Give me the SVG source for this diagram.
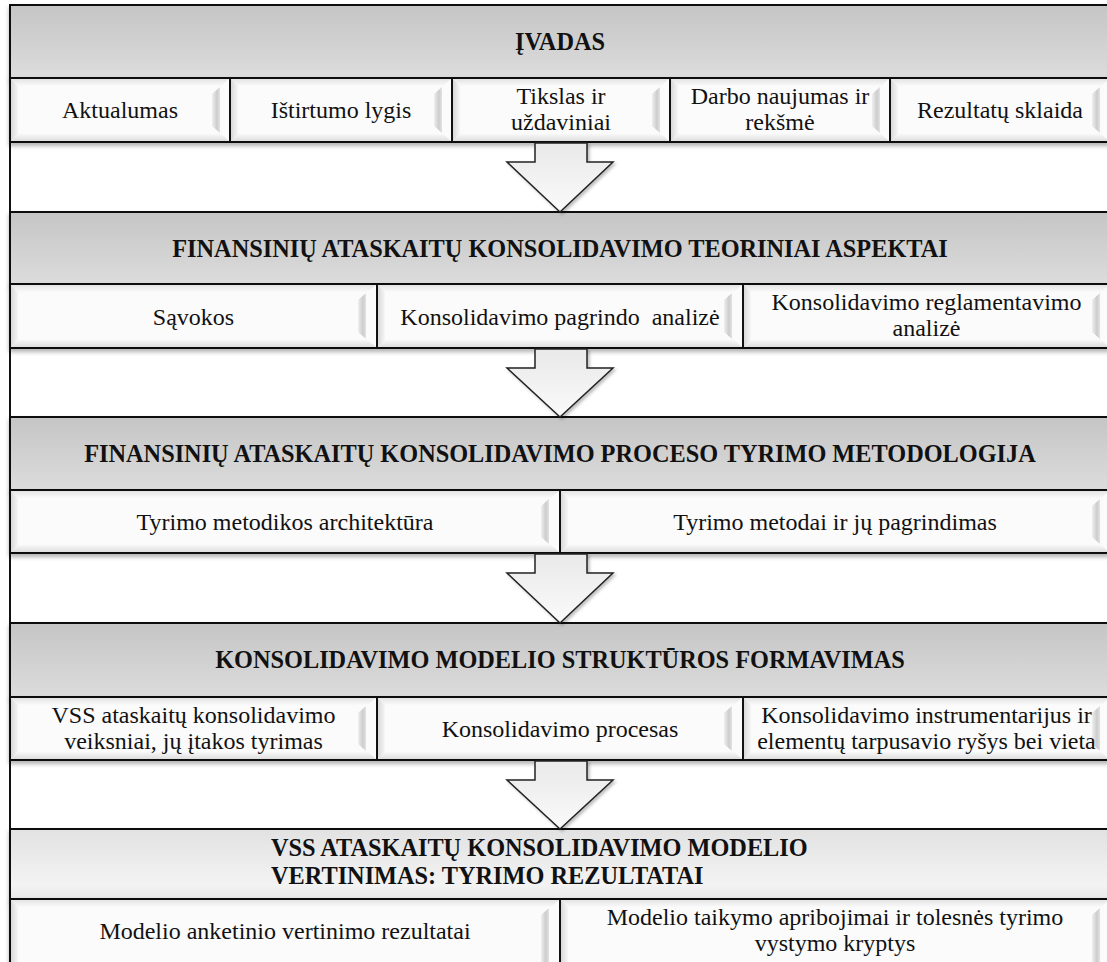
<svg xmlns="http://www.w3.org/2000/svg" width="1107" height="962" viewBox="0 0 1107 962">
  <defs>
    <linearGradient id="gHead" x1="0" y1="0" x2="0" y2="1">
      <stop offset="0" stop-color="#c5c5c5"/>
      <stop offset="1" stop-color="#dcdcdc"/>
    </linearGradient>
    <linearGradient id="gHeadLight" x1="0" y1="0" x2="0" y2="1">
      <stop offset="0" stop-color="#e2e2e2"/>
      <stop offset="0.8" stop-color="#f3f3f3"/>
      <stop offset="1" stop-color="#e9e9e9"/>
    </linearGradient>
    <linearGradient id="gArrow" x1="0" y1="0" x2="0" y2="1">
      <stop offset="0" stop-color="#e9e9e9"/>
      <stop offset="1" stop-color="#fafafa"/>
    </linearGradient>
    <linearGradient id="bevL" x1="0" y1="0" x2="1" y2="0">
      <stop offset="0" stop-color="#d9d9d9"/>
      <stop offset="1" stop-color="#f6f6f6"/>
    </linearGradient>
    <linearGradient id="bevT" x1="0" y1="0" x2="0" y2="1">
      <stop offset="0" stop-color="#e4e4e4"/>
      <stop offset="1" stop-color="#fafafa"/>
    </linearGradient>
    <linearGradient id="bevB" x1="0" y1="0" x2="0" y2="1">
      <stop offset="0" stop-color="#f8f8f8"/>
      <stop offset="1" stop-color="#dedede"/>
    </linearGradient>
    <linearGradient id="bevR" x1="0" y1="0" x2="1" y2="0">
      <stop offset="0" stop-color="#efefef"/>
      <stop offset="0.6" stop-color="#cdcdcd"/>
      <stop offset="1" stop-color="#e2e2e2"/>
    </linearGradient>
    <filter id="shadow" x="-5%" y="-20%" width="110%" height="150%">
      <feDropShadow dx="0" dy="3" stdDeviation="2" flood-color="#000" flood-opacity="0.3"/>
    </filter>
    <filter id="arrowShadow" x="-20%" y="-20%" width="150%" height="150%">
      <feDropShadow dx="2" dy="2" stdDeviation="1.5" flood-color="#000" flood-opacity="0.25"/>
    </filter>
  </defs>
  <style>
    .head { fill: url(#gHead); stroke: #111; stroke-width: 2; filter: url(#shadow); }
    .head.light { fill: url(#gHeadLight); }
    .row { fill: #fbfbfb; stroke: #111; stroke-width: 2; filter: url(#shadow); }
    .div { stroke: #111; stroke-width: 2; }
    .bl { fill: url(#bevL); }
    .bt { fill: url(#bevT); }
    .bb { fill: url(#bevB); }
    .br { fill: url(#bevR); }
    text { font-family: 'Liberation Serif', 'DejaVu Serif', serif; fill: #111; }
    .txt { font-size: 24px; text-anchor: middle; }
    .ttl { font-size: 24.3px; font-weight: bold; text-anchor: middle; }
    .left { text-anchor: start; }
    .arrow { fill: url(#gArrow); stroke: #222; stroke-width: 1.5; stroke-linejoin: miter; filter: url(#arrowShadow); }
    .frame { stroke: #111; stroke-width: 2; fill: none; }
  </style>

  <rect width="1107" height="962" fill="#fff"/>
  <line class="frame" x1="10" y1="5" x2="10" y2="962"/>

  <!-- Section 1 -->
  <g id="ivadas">
    <rect class="head" x="10" y="5" width="1100" height="73"/>
    <text class="ttl" x="560" y="50">ĮVADAS</text>
    <rect class="row" x="10" y="78" width="1100" height="64"/>
    <path class="bt" d="M11,79 L229,79 L221,86 L18,86 Z"/>
    <path class="bl" d="M11,79 L18,86 L18,134 L11,141 Z"/>
    <path class="bb" d="M11,141 L18,134 L221,134 L229,141 Z"/>
    <path class="br" d="M212,94 L220,87 L220,133 L212,126 Z"/>
    <path class="bt" d="M231,79 L451,79 L443,86 L238,86 Z"/>
    <path class="bl" d="M231,79 L238,86 L238,134 L231,141 Z"/>
    <path class="bb" d="M231,141 L238,134 L443,134 L451,141 Z"/>
    <path class="br" d="M434,94 L442,87 L442,133 L434,126 Z"/>
    <path class="bt" d="M453,79 L669,79 L661,86 L460,86 Z"/>
    <path class="bl" d="M453,79 L460,86 L460,134 L453,141 Z"/>
    <path class="bb" d="M453,141 L460,134 L661,134 L669,141 Z"/>
    <path class="br" d="M652,94 L660,87 L660,133 L652,126 Z"/>
    <path class="bt" d="M671,79 L889,79 L881,86 L678,86 Z"/>
    <path class="bl" d="M671,79 L678,86 L678,134 L671,141 Z"/>
    <path class="bb" d="M671,141 L678,134 L881,134 L889,141 Z"/>
    <path class="br" d="M872,94 L880,87 L880,133 L872,126 Z"/>
    <path class="bt" d="M891,79 L1109,79 L1101,86 L898,86 Z"/>
    <path class="bl" d="M891,79 L898,86 L898,134 L891,141 Z"/>
    <path class="bb" d="M891,141 L898,134 L1101,134 L1109,141 Z"/>
    <path class="br" d="M1092,94 L1100,87 L1100,133 L1092,126 Z"/>
    <line class="div" x1="230" y1="78" x2="230" y2="142"/>
    <line class="div" x1="452" y1="78" x2="452" y2="142"/>
    <line class="div" x1="670" y1="78" x2="670" y2="142"/>
    <line class="div" x1="890" y1="78" x2="890" y2="142"/>
    <text class="txt" x="120" y="118">Aktualumas</text>
    <text class="txt" x="341" y="118">Ištirtumo lygis</text>
    <text class="txt" x="561" y="104">Tikslas ir</text>
    <text class="txt" x="561" y="130">uždaviniai</text>
    <text class="txt" x="780" y="104">Darbo naujumas ir</text>
    <text class="txt" x="780" y="130">rekšmė</text>
    <text class="txt" x="1000" y="118">Rezultatų sklaida</text>
  </g>

  <!-- Section 2 -->
  <g id="teoriniai-aspektai">
    <rect class="head" x="10" y="212" width="1100" height="72"/>
    <text class="ttl" x="560" y="257">FINANSINIŲ ATASKAITŲ KONSOLIDAVIMO TEORINIAI ASPEKTAI</text>
    <rect class="row" x="10" y="284" width="1100" height="64"/>
    <path class="bt" d="M11,285 L376,285 L368,292 L18,292 Z"/>
    <path class="bl" d="M11,285 L18,292 L18,340 L11,347 Z"/>
    <path class="bb" d="M11,347 L18,340 L368,340 L376,347 Z"/>
    <path class="br" d="M358,300 L366,293 L366,339 L358,332 Z"/>
    <path class="bt" d="M378,285 L742,285 L734,292 L385,292 Z"/>
    <path class="bl" d="M378,285 L385,292 L385,340 L378,347 Z"/>
    <path class="bb" d="M378,347 L385,340 L734,340 L742,347 Z"/>
    <path class="br" d="M724,300 L732,293 L732,339 L724,332 Z"/>
    <path class="bt" d="M744,285 L1109,285 L1101,292 L751,292 Z"/>
    <path class="bl" d="M744,285 L751,292 L751,340 L744,347 Z"/>
    <path class="bb" d="M744,347 L751,340 L1101,340 L1109,347 Z"/>
    <path class="br" d="M1092,300 L1100,293 L1100,339 L1092,332 Z"/>
    <line class="div" x1="377" y1="284" x2="377" y2="348"/>
    <line class="div" x1="743" y1="284" x2="743" y2="348"/>
    <text class="txt" x="193.5" y="325">Sąvokos</text>
    <text class="txt" x="560" y="325" xml:space="preserve">Konsolidavimo pagrindo  analizė</text>
    <text class="txt" x="926.5" y="310">Konsolidavimo reglamentavimo</text>
    <text class="txt" x="926.5" y="336">analizė</text>
  </g>

  <!-- Section 3 -->
  <g id="metodologija">
    <rect class="head" x="10" y="417" width="1100" height="73"/>
    <text class="ttl" x="560" y="462">FINANSINIŲ ATASKAITŲ KONSOLIDAVIMO PROCESO TYRIMO METODOLOGIJA</text>
    <rect class="row" x="10" y="490" width="1100" height="63"/>
    <path class="bt" d="M11,491 L559,491 L551,498 L18,498 Z"/>
    <path class="bl" d="M11,491 L18,498 L18,545 L11,552 Z"/>
    <path class="bb" d="M11,552 L18,545 L551,545 L559,552 Z"/>
    <path class="br" d="M541,506 L549,499 L549,544 L541,537 Z"/>
    <path class="bt" d="M561,491 L1109,491 L1101,498 L568,498 Z"/>
    <path class="bl" d="M561,491 L568,498 L568,545 L561,552 Z"/>
    <path class="bb" d="M561,552 L568,545 L1101,545 L1109,552 Z"/>
    <path class="br" d="M1092,506 L1100,499 L1100,544 L1092,537 Z"/>
    <line class="div" x1="560" y1="490" x2="560" y2="553"/>
    <text class="txt" x="285" y="530">Tyrimo metodikos architektūra</text>
    <text class="txt" x="835" y="530">Tyrimo metodai ir jų pagrindimas</text>
  </g>

  <!-- Section 4 -->
  <g id="modelio-struktura">
    <rect class="head" x="10" y="623" width="1100" height="74"/>
    <text class="ttl" x="560" y="668">KONSOLIDAVIMO MODELIO STRUKTŪROS FORMAVIMAS</text>
    <rect class="row" x="10" y="697" width="1100" height="63"/>
    <path class="bt" d="M11,698 L376,698 L368,705 L18,705 Z"/>
    <path class="bl" d="M11,698 L18,705 L18,752 L11,759 Z"/>
    <path class="bb" d="M11,759 L18,752 L368,752 L376,759 Z"/>
    <path class="br" d="M358,713 L366,706 L366,751 L358,744 Z"/>
    <path class="bt" d="M378,698 L742,698 L734,705 L385,705 Z"/>
    <path class="bl" d="M378,698 L385,705 L385,752 L378,759 Z"/>
    <path class="bb" d="M378,759 L385,752 L734,752 L742,759 Z"/>
    <path class="br" d="M724,713 L732,706 L732,751 L724,744 Z"/>
    <path class="bt" d="M744,698 L1109,698 L1101,705 L751,705 Z"/>
    <path class="bl" d="M744,698 L751,705 L751,752 L744,759 Z"/>
    <path class="bb" d="M744,759 L751,752 L1101,752 L1109,759 Z"/>
    <path class="br" d="M1092,713 L1100,706 L1100,751 L1092,744 Z"/>
    <line class="div" x1="377" y1="697" x2="377" y2="760"/>
    <line class="div" x1="743" y1="697" x2="743" y2="760"/>
    <text class="txt" x="193.5" y="723">VSS ataskaitų konsolidavimo</text>
    <text class="txt" x="193.5" y="749">veiksniai, jų įtakos tyrimas</text>
    <text class="txt" x="560" y="737">Konsolidavimo procesas</text>
    <text class="txt" x="926.5" y="723">Konsolidavimo instrumentarijus ir</text>
    <text class="txt" x="926.5" y="749">elementų tarpusavio ryšys bei vieta</text>
  </g>

  <!-- Section 5 -->
  <g id="vertinimas">
    <rect class="head light" x="10" y="829" width="1100" height="70"/>
    <text class="ttl left" x="271" y="856">VSS ATASKAITŲ KONSOLIDAVIMO MODELIO</text>
    <text class="ttl left" x="271" y="884">VERTINIMAS: TYRIMO REZULTATAI</text>
    <rect class="row" x="10" y="899" width="1100" height="64"/>
    <path class="bt" d="M11,900 L559,900 L551,907 L18,907 Z"/>
    <path class="bl" d="M11,900 L18,907 L18,962 L11,962 Z"/>
    <path class="br" d="M541,915 L549,908 L549,962 L541,962 Z"/>
    <path class="bt" d="M561,900 L1109,900 L1101,907 L568,907 Z"/>
    <path class="bl" d="M561,900 L568,907 L568,962 L561,962 Z"/>
    <path class="br" d="M1092,915 L1100,908 L1100,962 L1092,962 Z"/>
    <line class="div" x1="560" y1="899" x2="560" y2="962"/>
    <text class="txt" x="285" y="939">Modelio anketinio vertinimo rezultatai</text>
    <text class="txt" x="835" y="925">Modelio taikymo apribojimai ir tolesnės tyrimo</text>
    <text class="txt" x="835" y="951">vystymo kryptys</text>
  </g>

  <!-- Block arrows between sections -->
  <g id="connectors">
    <path class="arrow" d="M535,143 L587,143 L587,162 L613,162 L560,212 L507,162 L535,162 Z"/>
    <path class="arrow" d="M535,349 L587,349 L587,368 L613,368 L560,417 L507,368 L535,368 Z"/>
    <path class="arrow" d="M535,554 L587,554 L587,573 L613,573 L560,623 L507,573 L535,573 Z"/>
    <path class="arrow" d="M535,761 L587,761 L587,780 L613,780 L560,829 L507,780 L535,780 Z"/>
  </g>
</svg>
